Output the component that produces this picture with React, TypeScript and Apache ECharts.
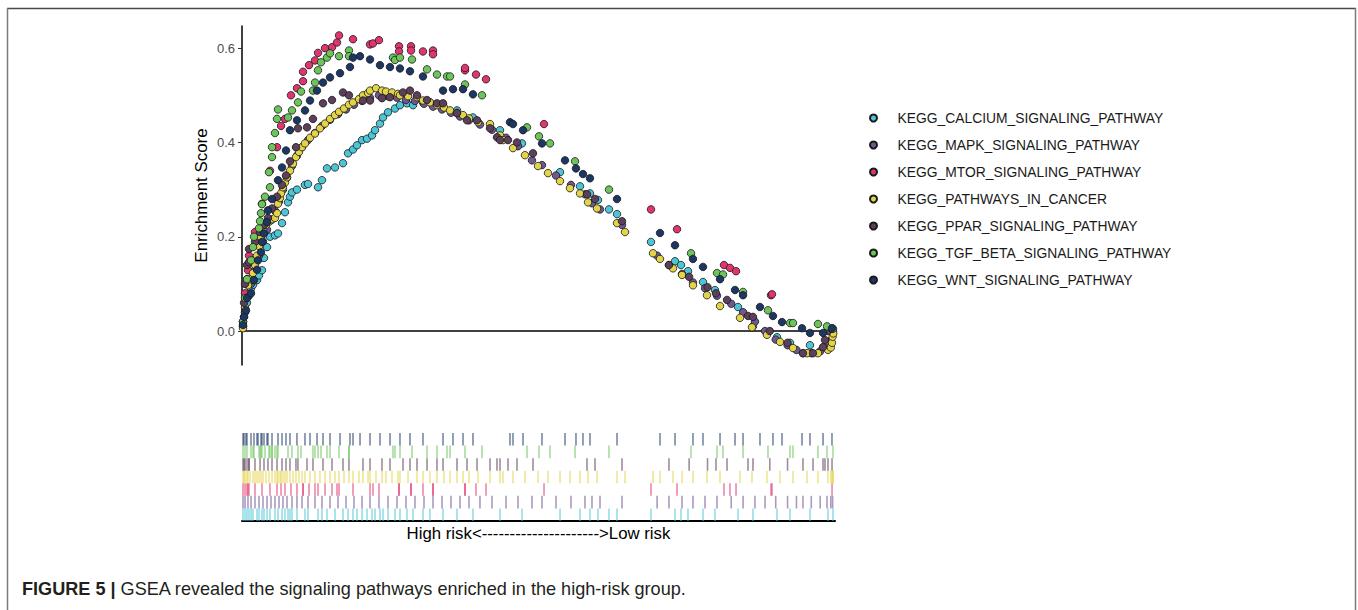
import React, { useEffect, useRef } from "react";
import * as echarts from "echarts";

const pathwayNames = [
  "KEGG_CALCIUM_SIGNALING_PATHWAY",
  "KEGG_MAPK_SIGNALING_PATHWAY",
  "KEGG_MTOR_SIGNALING_PATHWAY",
  "KEGG_PATHWAYS_IN_CANCER",
  "KEGG_PPAR_SIGNALING_PATHWAY",
  "KEGG_TGF_BETA_SIGNALING_PATHWAY",
  "KEGG_WNT_SIGNALING_PATHWAY",
];

const pathwayColors = ["#4cc6d6", "#6f5694", "#e0356f", "#e2d449", "#5c3f5a", "#6cc45a", "#1c3764"];

// [rank position (% of ranked list), running enrichment score]
const calcium = [
  [0.17, 0.01], [0.51, 0.04], [0.84, 0.06], [1.18, 0.075], [1.52, 0.09], [1.85, 0.098], [2.53, 0.108], [2.87, 0.118],
  [3.37, 0.129], [3.71, 0.155], [4.22, 0.178], [4.72, 0.2], [5.56, 0.203], [6.07, 0.207], [6.75, 0.229], [7.25, 0.252],
  [7.76, 0.273], [8.09, 0.285], [8.43, 0.294], [9.27, 0.3], [10.62, 0.31], [11.13, 0.312], [12.82, 0.305], [13.49, 0.32],
  [14.33, 0.345], [15.68, 0.347], [17.03, 0.356], [17.88, 0.377], [18.72, 0.385], [19.39, 0.394], [20.24, 0.405],
  [21.08, 0.408], [21.92, 0.415], [22.43, 0.426], [23.27, 0.44], [23.78, 0.453], [24.62, 0.464], [25.8, 0.472],
  [26.64, 0.479], [27.82, 0.483], [28.84, 0.479], [30.52, 0.485], [31.7, 0.485], [33.9, 0.479], [36.26, 0.468],
  [38.95, 0.453], [43.51, 0.426], [47.22, 0.398], [53.63, 0.337], [57.0, 0.307], [58.68, 0.292], [60.03, 0.278],
  [61.89, 0.258], [63.24, 0.248], [68.97, 0.189], [73.02, 0.148], [74.03, 0.14], [75.21, 0.127], [77.74, 0.104],
  [79.76, 0.087], [83.64, 0.051], [86.17, 0.01], [90.22, -0.013], [92.41, -0.025], [95.78, -0.03], [98.82, 0.006],
  [99.66, 0.0],
];

const mapk = [
  [0.17, 0.01], [0.51, 0.04], [1.01, 0.075], [1.52, 0.1], [2.19, 0.13], [2.87, 0.16], [3.54, 0.19], [4.22, 0.215],
  [4.89, 0.235], [5.56, 0.255], [6.24, 0.275], [6.91, 0.3], [7.59, 0.325], [8.43, 0.35], [9.27, 0.372], [10.12, 0.39],
  [11.13, 0.405], [12.31, 0.42], [13.49, 0.435], [14.84, 0.448], [16.19, 0.46], [17.54, 0.47], [18.88, 0.48],
  [20.24, 0.488], [21.59, 0.495], [23.1, 0.5], [24.62, 0.498], [26.14, 0.495], [27.65, 0.49], [29.17, 0.488],
  [30.69, 0.482], [32.21, 0.476], [33.73, 0.47], [35.24, 0.463], [36.76, 0.455], [38.28, 0.447], [40.13, 0.438],
  [42.16, 0.427], [44.52, 0.41], [46.54, 0.392], [48.9, 0.362], [50.59, 0.352], [52.95, 0.33], [55.48, 0.31],
  [57.84, 0.29], [59.02, 0.271], [60.37, 0.258], [64.08, 0.225], [70.0, 0.16], [72.0, 0.14], [74.2, 0.121],
  [76.05, 0.103], [78.08, 0.091], [80.1, 0.075], [82.5, 0.058], [84.5, 0.04], [86.5, 0.02], [88.2, 0.0],
  [90.0, -0.018], [92.0, -0.03], [93.5, -0.04], [94.6, -0.047], [96.0, -0.047], [97.5, -0.043], [98.65, -0.035],
  [99.3, -0.02], [99.6, 0.0],
];

const mtor = [
  [0.17, 0.02], [0.51, 0.08], [0.84, 0.11], [1.01, 0.129], [1.18, 0.16], [2.19, 0.21], [3.37, 0.27], [4.72, 0.34],
  [5.9, 0.39], [6.58, 0.435], [7.25, 0.45], [8.26, 0.5], [9.27, 0.515], [10.29, 0.53], [10.29, 0.55], [11.3, 0.564],
  [12.31, 0.574], [12.82, 0.59], [14.0, 0.6], [15.18, 0.602], [16.02, 0.612], [16.36, 0.627], [18.72, 0.619],
  [21.59, 0.608], [22.09, 0.61], [23.1, 0.617], [26.48, 0.604], [26.48, 0.593], [28.5, 0.604], [28.5, 0.595],
  [30.52, 0.593], [32.21, 0.595], [32.21, 0.587], [37.61, 0.553], [37.61, 0.558], [39.46, 0.544], [41.15, 0.534],
  [50.93, 0.439], [68.97, 0.258], [73.36, 0.216], [81.28, 0.14], [82.29, 0.134], [83.31, 0.127], [89.21, 0.076],
  [89.38, 0.078], [99.5, 0.0],
];

const cancer = [
  [0.17, 0.006], [0.34, 0.03], [0.51, 0.05], [0.84, 0.07], [1.01, 0.097], [1.35, 0.11], [1.85, 0.123], [2.19, 0.14],
  [2.53, 0.16], [2.87, 0.18], [3.2, 0.2], [3.54, 0.215], [4.05, 0.225], [4.55, 0.232], [5.06, 0.237], [5.56, 0.24],
  [5.9, 0.25], [6.07, 0.27], [6.41, 0.282], [6.58, 0.292], [6.91, 0.305], [7.25, 0.315], [7.59, 0.326], [8.09, 0.34],
  [8.6, 0.355], [9.1, 0.369], [9.61, 0.38], [10.12, 0.39], [10.62, 0.398], [11.47, 0.41], [12.31, 0.419],
  [13.15, 0.43], [14.0, 0.44], [14.84, 0.45], [15.68, 0.458], [16.36, 0.465], [17.2, 0.472], [18.04, 0.48],
  [18.72, 0.485], [19.73, 0.492], [20.4, 0.5], [21.25, 0.505], [21.59, 0.51], [22.6, 0.515], [23.61, 0.51],
  [24.28, 0.508], [25.29, 0.506], [26.3, 0.503], [26.64, 0.5], [28.0, 0.498], [29.51, 0.496], [30.52, 0.489],
  [31.7, 0.485], [32.88, 0.479], [34.07, 0.474], [35.08, 0.468], [36.26, 0.463], [37.27, 0.458], [38.28, 0.451],
  [39.8, 0.443], [41.82, 0.439], [43.51, 0.415], [44.01, 0.405], [45.7, 0.388], [47.72, 0.373], [49.92, 0.35],
  [51.6, 0.335], [53.63, 0.318], [55.31, 0.303], [57.0, 0.292], [58.35, 0.273], [59.87, 0.26], [63.24, 0.229],
  [64.59, 0.21], [69.31, 0.165], [70.49, 0.153], [72.68, 0.133], [74.2, 0.119], [76.05, 0.097], [78.41, 0.076],
  [80.61, 0.053], [83.98, 0.028], [86.0, 0.008], [88.53, -0.008], [90.73, -0.023], [92.92, -0.036], [95.28, -0.047],
  [97.13, -0.047], [98.82, -0.04], [99.3, -0.035], [99.49, -0.025], [99.6, -0.012], [99.7, -0.005],
];

const ppar = [
  [0.17, 0.02], [0.34, 0.06], [0.51, 0.1], [0.84, 0.14], [1.18, 0.146], [1.18, 0.174], [2.19, 0.189], [3.04, 0.21],
  [3.71, 0.225], [4.38, 0.24], [5.06, 0.26], [5.9, 0.285], [6.75, 0.31], [7.42, 0.33], [8.09, 0.36], [9.1, 0.39],
  [9.44, 0.43], [10.96, 0.432], [11.97, 0.45], [13.66, 0.483], [15.18, 0.49], [17.03, 0.506], [18.04, 0.5],
  [20.4, 0.489], [21.59, 0.489], [23.61, 0.494], [24.96, 0.496], [27.15, 0.506], [28.33, 0.51], [29.51, 0.5],
  [31.2, 0.49], [32.88, 0.483], [33.9, 0.483], [36.26, 0.462], [37.94, 0.447], [39.63, 0.447], [41.82, 0.43],
  [43.0, 0.411], [43.51, 0.405], [44.86, 0.405], [46.37, 0.4], [49.07, 0.377], [58.18, 0.29], [59.53, 0.28],
  [64.08, 0.233], [72.0, 0.14], [75.4, 0.115], [78.5, 0.093], [79.93, 0.08], [81.79, 0.066], [85.33, 0.032],
  [86.17, 0.03], [89.0, 0.0], [92.0, -0.025], [94.6, -0.047], [96.29, -0.047], [97.98, -0.034], [98.31, -0.019],
  [98.82, 0.0], [99.5, 0.005],
];

const tgfBeta = [
  [0.17, 0.02], [0.51, 0.07], [0.84, 0.11], [1.52, 0.15], [1.85, 0.178], [2.02, 0.2], [2.87, 0.218], [3.04, 0.233],
  [3.2, 0.25], [3.37, 0.269], [3.88, 0.285], [4.72, 0.305], [4.55, 0.337], [5.06, 0.369], [5.06, 0.39], [5.56, 0.42],
  [5.9, 0.45], [6.07, 0.47], [7.76, 0.453], [8.43, 0.468], [9.44, 0.485], [9.95, 0.508], [11.97, 0.51],
  [12.31, 0.527], [12.82, 0.553], [13.32, 0.57], [14.33, 0.58], [14.84, 0.589], [16.36, 0.583], [18.04, 0.595],
  [18.04, 0.583], [25.46, 0.58], [25.8, 0.575], [26.64, 0.58], [28.67, 0.576], [31.2, 0.555], [32.88, 0.544],
  [34.57, 0.54], [35.08, 0.54], [37.61, 0.523], [40.47, 0.5], [48.06, 0.432], [50.08, 0.413], [51.94, 0.398],
  [56.16, 0.36], [61.89, 0.3], [75.72, 0.165], [80.1, 0.123], [81.11, 0.12], [84.49, 0.083], [88.7, 0.044],
  [92.41, 0.017], [92.92, 0.017], [97.13, 0.015], [98.65, 0.01], [99.66, 0.005],
];

const wnt = [
  [0.17, 0.013], [0.34, 0.03], [0.67, 0.044], [0.84, 0.07], [1.52, 0.08], [2.02, 0.108], [2.53, 0.13], [2.7, 0.15],
  [3.2, 0.167], [3.37, 0.189], [3.71, 0.207], [4.22, 0.231], [4.38, 0.256], [5.06, 0.28], [6.07, 0.32], [6.75, 0.347],
  [7.42, 0.383], [8.09, 0.426], [9.27, 0.447], [10.62, 0.468], [11.47, 0.489], [12.65, 0.51], [13.66, 0.527],
  [14.84, 0.538], [16.53, 0.547], [18.21, 0.56], [18.72, 0.58], [19.9, 0.583], [21.59, 0.576], [23.27, 0.564],
  [24.96, 0.56], [26.64, 0.557], [28.33, 0.551], [30.52, 0.54], [33.9, 0.51], [35.58, 0.513], [37.27, 0.513],
  [38.95, 0.502], [45.19, 0.443], [45.7, 0.439], [47.39, 0.426], [50.59, 0.398], [54.47, 0.362], [56.32, 0.345],
  [57.5, 0.333], [58.68, 0.324], [63.24, 0.28], [70.49, 0.208], [73.02, 0.182], [76.05, 0.153], [77.74, 0.136],
  [80.61, 0.11], [83.14, 0.087], [84.49, 0.076], [87.35, 0.051], [89.54, 0.032], [91.06, 0.019], [94.44, 0.006],
  [95.78, -0.004], [97.98, -0.004], [99.49, 0.006],
];

const pathwayData = [calcium, mapk, mtor, cancer, ppar, tgfBeta, wnt];

const yTickValues = [0, 0.2, 0.4, 0.6];
const yAxisTitle = "Enrichment Score";
const rugAxisTitle = "High risk<--------------------->Low risk";
const captionBold = "FIGURE 5 |";
const captionText = " GSEA revealed the signaling pathways enriched in the high-risk group.";

const FONT = "'Liberation Sans', Arial, Helvetica, sans-serif";

export default function App() {
  const ref = useRef<HTMLDivElement>(null);

  useEffect(() => {
    if (!ref.current) return;
    const chart = echarts.init(ref.current, null, { renderer: "svg" });

    const scatterSeries = pathwayNames.map((name, i) => ({
      name,
      type: "scatter",
      xAxisIndex: 0,
      yAxisIndex: 0,
      symbol: "circle",
      symbolSize: 7.5,
      silent: true,
      z: 3 + i,
      itemStyle: { color: pathwayColors[i], borderColor: "#1a1a1a", borderWidth: 0.8, opacity: 1 },
      data: pathwayData[i],
      ...(i === 0
        ? {
            markLine: {
              silent: true,
              symbol: "none",
              label: { show: false },
              lineStyle: { color: "#000", width: 1.5, type: "solid" },
              data: [{ yAxis: 0 }],
              z: 1,
            },
          }
        : {}),
    }));

    const rugSeries = pathwayNames.map((name, i) => ({
      name: name + " rug",
      type: "scatter",
      xAxisIndex: 1,
      yAxisIndex: 1,
      symbol: "rect",
      symbolSize: [1.6, 12.6],
      silent: true,
      itemStyle: { color: pathwayColors[i], opacity: 0.6 },
      data: pathwayData[i].map((p) => [p[0], name]),
    }));

    const option = {
      animation: false,
      backgroundColor: "#ffffff",
      textStyle: { fontFamily: FONT },
      grid: [
        { left: 242, top: 26, width: 593, height: 339 },
        { left: 242, top: 433, width: 593, height: 88 },
      ],
      xAxis: [
        { gridIndex: 0, type: "value", min: 0, max: 100, show: false },
        {
          gridIndex: 1,
          type: "value",
          min: 0,
          max: 100,
          axisLine: { show: true, onZero: false, lineStyle: { color: "#000", width: 2 } },
          axisTick: { show: false },
          axisLabel: { show: false },
          splitLine: { show: false },
          name: rugAxisTitle,
          nameLocation: "middle",
          nameGap: 4,
          nameTextStyle: { color: "#000", fontSize: 16.8, fontFamily: FONT },
        },
      ],
      yAxis: [
        {
          gridIndex: 0,
          type: "value",
          min: -0.072,
          max: 0.647,
          axisLine: { show: true, onZero: false, lineStyle: { color: "#000", width: 1.5 } },
          axisTick: { show: true, customValues: yTickValues, length: 4, lineStyle: { color: "#333", width: 1 } },
          axisLabel: {
            show: true,
            customValues: yTickValues,
            formatter: (v: number) => v.toFixed(1),
            color: "#4d4d4d",
            fontSize: 13,
            margin: 7,
            fontFamily: FONT,
          },
          splitLine: { show: false },
          name: yAxisTitle,
          nameLocation: "middle",
          nameGap: 32,
          nameRotate: 90,
          nameTextStyle: { color: "#000", fontSize: 16.9, fontFamily: FONT },
        },
        {
          gridIndex: 1,
          type: "category",
          data: pathwayNames,
          show: false,
        },
      ],
      legend: {
        data: pathwayNames,
        orient: "vertical",
        left: 864,
        top: 106,
        itemWidth: 38,
        itemHeight: 7,
        itemGap: 13,
        icon: "circle",
        selectedMode: false,
        textStyle: { fontSize: 13.85, color: "#1a1a1a", fontFamily: FONT, lineHeight: 14 },
      },
      graphic: [
        { type: "line", shape: { x1: 7, y1: 8.5, x2: 1356, y2: 8.5 }, style: { stroke: "#4a4a4a", lineWidth: 1.5 } },
        { type: "line", shape: { x1: 7.5, y1: 8, x2: 7.5, y2: 610 }, style: { stroke: "#7a7a7a", lineWidth: 1.5 } },
        { type: "line", shape: { x1: 1355.5, y1: 8, x2: 1355.5, y2: 610 }, style: { stroke: "#7a7a7a", lineWidth: 1.5 } },
        {
          type: "text",
          left: 22,
          top: 580,
          style: {
            text: "{b|" + captionBold + "}{r|" + captionText + "}",
            rich: {
              b: { fontFamily: FONT, fontWeight: "bold", fontSize: 18.1, fill: "#231f20" },
              r: { fontFamily: FONT, fontSize: 18.1, fill: "#231f20" },
            },
          },
        },
      ],
      series: [...scatterSeries, ...rugSeries],
    };

    chart.setOption(option as any);
    return () => chart.dispose();
  }, []);

  return (
    <div
      ref={ref}
      style={{ position: "fixed", left: 0, top: 0, width: 1358, height: 610, background: "#fff" }}
    />
  );
}
